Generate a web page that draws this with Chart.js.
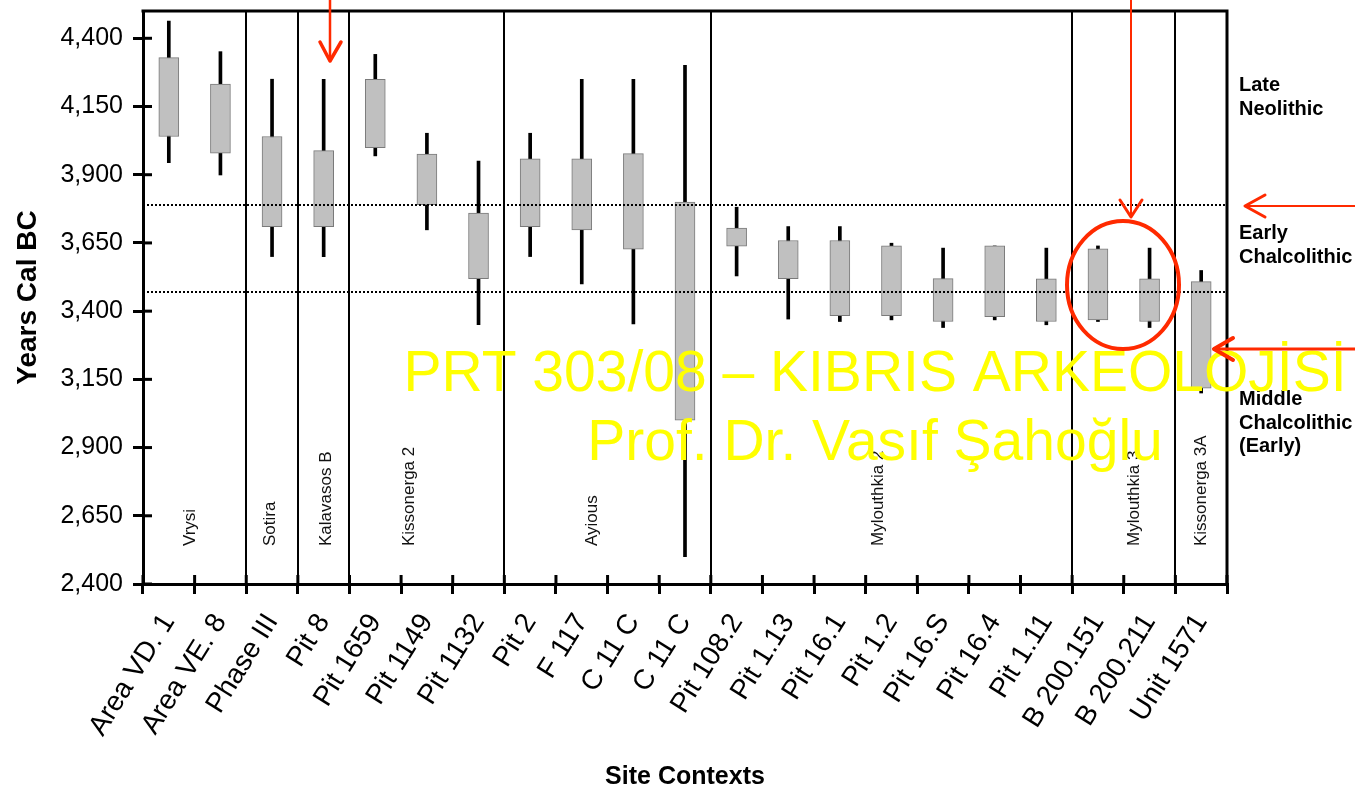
<!DOCTYPE html>
<html>
<head>
<meta charset="utf-8">
<style>
html,body{margin:0;padding:0;background:#fff;}
#wrap{width:1355px;height:790px;position:relative;}
</style>
<script src="https://cdn.jsdelivr.net/npm/chart.js@4.4.0/dist/chart.umd.min.js"></script>
</head>
<body>
<div id="wrap"><canvas id="c" width="1355" height="790"></canvas></div>
<script>
// ---- data ----
const categories = ['Area VD. 1','Area VE. 8','Phase III','Pit 8','Pit 1659','Pit 1149','Pit 1132',
  'Pit 2','F 117','C 11 C','C 11 C','Pit 108.2','Pit 1.13','Pit 16.1','Pit 1.2','Pit 16.S',
  'Pit 16.4','Pit 1.11','B 200.151','B 200.211','Unit 1571'];
const whiskerHigh = [4463,4351,4250,4250,4341,4052,3950,4052,4250,4250,4301,3781,3710,3710,3649,3631,3639,3631,3639,3631,3549];
const boxHigh     = [4329,4232,4040,3988,4250,3976,3759,3958,3958,3977,3800,3704,3659,3659,3639,3519,3639,3518,3628,3518,3508];
const boxLow      = [4040,3979,3710,3710,3999,3790,3519,3710,3698,3627,3000,3638,3519,3383,3383,3362,3380,3362,3368,3362,3118];
const whiskerLow  = [3944,3899,3600,3600,3969,3698,3350,3600,3500,3353,2500,3529,3371,3362,3368,3340,3368,3350,3362,3340,3100];
const groupNames  = ['Vrysi','Sotira','Kalavasos B','Kissonerga 2','Ayious','Mylouthkia 2','Mylouthkia 3','Kissonerga 3A'];
const groupStarts = [0,2,3,4,7,11,18,20];
const periodBounds = [3790, 3470];
const yTickValues = [2400,2650,2900,3150,3400,3650,3900,4150,4400];
const periodLabels = [['Late','Neolithic'],['Early','Chalcolithic'],['Middle','Chalcolithic','(Early)']];

// ---- layout (not data) ----
const FONT = "'Liberation Sans', Arial, Helvetica, sans-serif";
const GROUP_LABEL_AT = [0.41, 1.97, 3.05, 4.65, 8.2, 13.74, 18.7, 20.0];
const PERIOD_LABEL_BASE = [91, 239, 405];
const RED = '#ff2a00';

const decor = {
  id: 'decor',
  afterDatasetsDraw(chart) {
    const {ctx, chartArea: a, scales: {x, y}} = chart;
    ctx.save();
    ctx.strokeStyle = '#000';
    ctx.lineWidth = 2;
    ctx.setLineDash([2, 2]);
    periodBounds.forEach(v => {
      const py = Math.round(y.getPixelForValue(v));
      ctx.beginPath(); ctx.moveTo(a.left, py); ctx.lineTo(a.right, py); ctx.stroke();
    });
    ctx.setLineDash([]);
    ctx.lineWidth = 2;
    groupStarts.slice(1).forEach(s => {
      const px = Math.round(x.getPixelForValue(s - 0.5));
      ctx.beginPath(); ctx.moveTo(px, a.top); ctx.lineTo(px, a.bottom); ctx.stroke();
    });
    ctx.lineWidth = 3;
    ctx.beginPath();
    ctx.moveTo(a.left - 1.5, a.top); ctx.lineTo(a.right, a.top); ctx.lineTo(a.right, a.bottom + 1.5);
    ctx.stroke();
    yTickValues.forEach(v => {
      const py = y.getPixelForValue(v);
      ctx.beginPath(); ctx.moveTo(a.left, py); ctx.lineTo(a.left + 9, py); ctx.stroke();
    });
    for (let i = 0; i <= categories.length; i++) {
      const px = x.getPixelForValue(i - 0.5);
      ctx.beginPath(); ctx.moveTo(px, a.bottom); ctx.lineTo(px, a.bottom - 9); ctx.stroke();
    }
    ctx.fillStyle = '#111';
    ctx.font = '17px ' + FONT;
    ctx.textAlign = 'left';
    ctx.textBaseline = 'middle';
    groupNames.forEach((n, g) => {
      const px = x.getPixelForValue(GROUP_LABEL_AT[g]);
      ctx.save();
      ctx.translate(px, a.bottom - 38);
      ctx.rotate(-Math.PI / 2);
      ctx.fillText(n, 0, 0);
      ctx.restore();
    });
    ctx.restore();
  },
  afterDraw(chart) {
    const {ctx, chartArea: a} = chart;
    ctx.save();
    ctx.fillStyle = '#000';
    ctx.font = 'bold 20px ' + FONT;
    ctx.textAlign = 'left';
    ctx.textBaseline = 'alphabetic';
    periodLabels.forEach((lines, k) => {
      lines.forEach((t, j) => ctx.fillText(t, a.right + 12, PERIOD_LABEL_BASE[k] + j * 23.5));
    });
    ctx.fillStyle = '#ffff00';
    ctx.font = '57px ' + FONT;
    ctx.textAlign = 'center';
    ctx.fillText('PRT 303/08 \u2013 KIBRIS ARKEOLOJ\u0130S\u0130', 875, 391);
    ctx.fillText('Prof. Dr. Vas\u0131f \u015Eaho\u011Flu', 875, 460);
    ctx.strokeStyle = RED;
    ctx.lineCap = 'round';
    ctx.lineJoin = 'round';
    const arrow = (x1, y1, x2, y2, h1, h2, w) => {
      ctx.lineWidth = w;
      ctx.beginPath(); ctx.moveTo(x1, y1); ctx.lineTo(x2, y2); ctx.stroke();
      ctx.lineWidth = w + 1;
      ctx.beginPath(); ctx.moveTo(h1[0], h1[1]); ctx.lineTo(x2, y2); ctx.lineTo(h2[0], h2[1]); ctx.stroke();
    };
    arrow(330, 0, 330, 61, [320, 42], [341, 42], 2.5);
    arrow(1131, 0, 1131, 217, [1120, 200], [1142, 200], 2);
    arrow(1355, 206, 1245, 206, [1265, 195], [1265, 217], 2);
    arrow(1355, 349, 1214, 349, [1233, 338], [1233, 360], 3);
    ctx.lineWidth = 4;
    ctx.beginPath();
    ctx.ellipse(1123, 285, 56, 64, 0, 0, Math.PI * 2);
    ctx.stroke();
    ctx.restore();
  }
};

Chart.defaults.font.family = FONT;
Chart.defaults.color = '#000';

new Chart(document.getElementById('c').getContext('2d'), {
  type: 'bar',
  data: {
    labels: categories,
    datasets: [
      {
        label: 'Range',
        data: categories.map((_, i) => [whiskerLow[i], whiskerHigh[i]]),
        backgroundColor: '#000',
        borderWidth: 0,
        barThickness: 3,
        grouped: false,
        order: 2
      },
      {
        label: 'Core',
        data: categories.map((_, i) => [boxLow[i], boxHigh[i]]),
        backgroundColor: '#c0c0c0',
        borderColor: '#7a7a7a',
        borderWidth: 1,
        borderSkipped: false,
        barThickness: 20,
        grouped: false,
        order: 1
      }
    ]
  },
  options: {
    responsive: false,
    animation: false,
    layout: {padding: {top: 11, right: 128, left: 0, bottom: 0}},
    plugins: {legend: {display: false}, tooltip: {enabled: false}},
    scales: {
      x: {
        grid: {display: true, drawOnChartArea: false, drawTicks: true, tickLength: 10, lineWidth: 3, color: '#000', offset: true},
        border: {display: true, width: 3, color: '#000'},
        ticks: {autoSkip: false, minRotation: 58, maxRotation: 58, padding: 14, font: {size: 28}, color: '#000'},
        title: {display: true, text: 'Site Contexts', font: {size: 25, weight: 'bold', lineHeight: 1}, padding: {top: 0, bottom: 0}, color: '#000'},
        afterFit: s => { s.height = 206; s.paddingLeft = 0; s.paddingRight = 0; }
      },
      y: {
        min: 2400,
        max: 4500,
        afterBuildTicks: s => { s.ticks = yTickValues.map(v => ({value: v})); },
        grid: {display: true, drawOnChartArea: false, drawTicks: true, tickLength: 10, lineWidth: 3, color: '#000'},
        border: {display: true, width: 3, color: '#000'},
        ticks: {padding: 10, font: {size: 25}, color: '#000', callback: v => Number(v).toLocaleString('en-US')},
        title: {display: true, text: 'Years Cal BC', font: {size: 28, weight: 'bold', lineHeight: 1}, padding: {top: 14, bottom: 0}, color: '#000'},
        afterFit: s => { s.width = 143; s.paddingTop = 0; s.paddingBottom = 0; }
      }
    }
  },
  plugins: [decor]
});
</script>
</body>
</html>
